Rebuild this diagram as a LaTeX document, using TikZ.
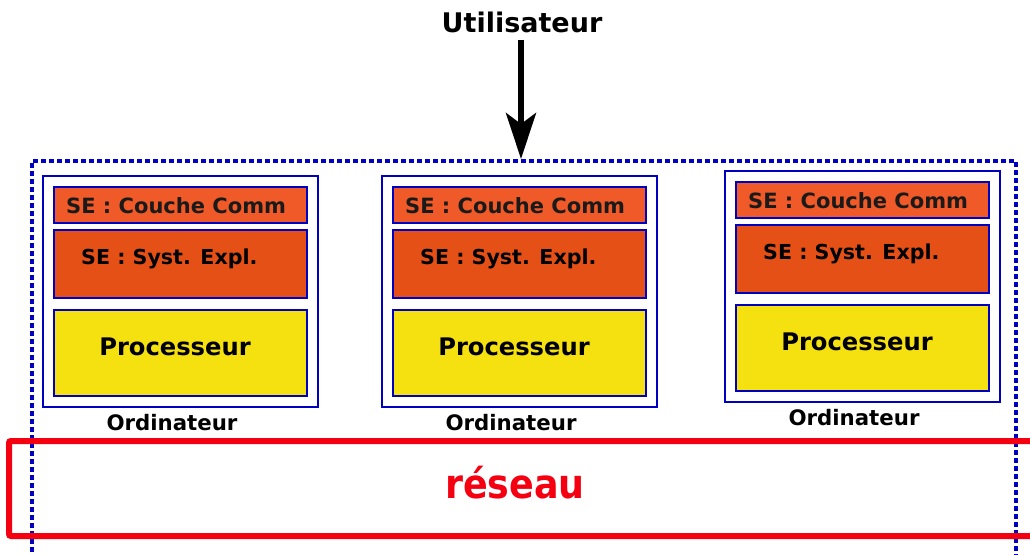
\documentclass[tikz,border=0pt]{standalone}
\usepackage{fontspec}
\setmainfont{DejaVu Sans}
\newfontfamily\condfont{DejaVu Sans Condensed}
\usetikzlibrary{arrows.meta}
\definecolor{bleu}{HTML}{0000C0}
\definecolor{orclair}{HTML}{F05A28}
\definecolor{orfonce}{HTML}{E55017}
\definecolor{jaune}{HTML}{F5E010}
\definecolor{rouge}{HTML}{F50010}
\definecolor{gristxt}{HTML}{1A1A1A}
\tikzset{
  box/.style={draw=bleu, line width=2.4pt, inner sep=0pt, rectangle},
  outerbox/.style={box, fill=white, minimum width=275pt, minimum height=231pt},
  commbox/.style={box, fill=orclair, minimum width=253pt, minimum height=36pt},
  systbox/.style={box, fill=orfonce, minimum width=253pt, minimum height=68pt},
  procbox/.style={box, fill=jaune, minimum width=253pt, minimum height=86pt},
  txt/.style={inner sep=0pt, font=\bfseries\fontsize{21}{25}\selectfont},
}
\begin{document}
\begin{tikzpicture}[x=1pt,y=-1pt]
\useasboundingbox (0,0) rectangle (1030,554);
\clip (0,0) rectangle (1030,554);
% dashed system box
\coordinate (dtl) at (32,161);
\coordinate (dtr) at (1016,161);
\coordinate (dbl) at (32,560);
\coordinate (dbr) at (1016,560);
\draw[bleu, line width=3.2pt, dash pattern=on 5pt off 3pt] (dbl) -- (dtl) -- (dtr) -- (dbr);
% user
\node[txt, font=\bfseries\fontsize{27}{31}\selectfont] (user) at (522,22) {Utilisateur};
\coordinate (entry) at (521,159);
\draw[line width=5.5pt, -{Stealth[length=46pt,width=30pt,inset=11pt]}] (user.south -| entry) ++(0,7) -- (entry);
% computers
\foreach \i/\dx/\dy in {1/0/0, 2/339/0, 3/682/-5}{
  \begin{scope}[shift={(\dx,\dy)}]
    \node[outerbox] (ord\i) at (180.5,291.5) {};
    \node[commbox] (comm\i) at (180.5,205) {};
    \node[systbox] (syst\i) at (180.5,264) {};
    \node[procbox] (proc\i) at (180.5,353) {};
    \node[txt, text=gristxt, anchor=west] (commtxt\i) at (66,206) {SE : Couche Comm};
    \node[txt, font=\bfseries\fontsize{20.6}{24}\selectfont, anchor=west] (systtxt\i) at (81,259) {SE : Syst. Expl.};
    \node[txt, font=\bfseries\fontsize{24.2}{28}\selectfont] (proctxt\i) at (175,347) {Processeur};
    \node[txt, font=\bfseries\fontsize{21.3}{26}\selectfont] (ordtxt\i) at (172,423) {Ordinateur};
  \end{scope}
}
% network
\draw[rouge, line width=6pt, rounded corners=2pt] (1045,441) -- (9,441) -- (9,536) -- (1045,536);
\node[inner sep=0pt, text=rouge, font=\condfont\bfseries\fontsize{40.5}{46}\selectfont] (reseau) at (515,483) {réseau};
\end{tikzpicture}
\end{document}
